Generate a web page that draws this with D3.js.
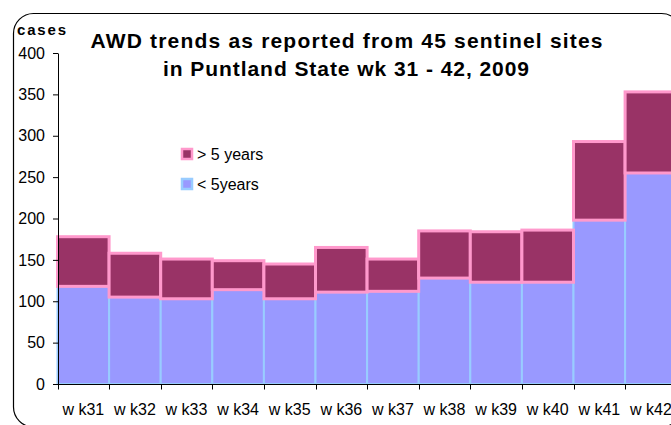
<!DOCTYPE html>
<html lang="en">
<head>
<meta charset="UTF-8">
<title>AWD trends</title>
<style>
  body { margin: 0; background: #fff; overflow: hidden; }
  svg { display: block; font-family: Arial, "Liberation Sans", sans-serif; }
  .tick text { font-size: 16px; fill: #000; }
</style>
</head>
<body>
<svg></svg>
<script src="https://d3js.org/d3.v7.min.js"></script>
<script>
// data
const weeks = ["w k31", "w k32", "w k33", "w k34", "w k35", "w k36",
               "w k37", "w k38", "w k39", "w k40", "w k41", "w k42"];
const under5 = [118, 105, 103, 114, 103, 111, 112, 128, 123, 123, 198, 255];
const over5  = [60, 53, 48, 35, 42, 54, 39, 57, 61, 63, 95, 98];
const yTicks = [0, 50, 100, 150, 200, 250, 300, 350, 400];

const width = 671, height = 425;
const svg = d3.select("svg").attr("width", width).attr("height", height);

// chart area border (rounded, cut off at right/bottom)
svg.append("rect")
    .attr("x", 13.5).attr("y", 13.5)
    .attr("width", 668).attr("height", 413.5)
    .attr("rx", 20).attr("ry", 20)
    .attr("fill", "none").attr("stroke", "#000").attr("stroke-width", 1.2);

const x = d3.scaleBand().domain(weeks).range([57.5, 676.7]).padding(0);
const y = d3.scaleLinear().domain([0, 400]).range([384, 53]);

// stacked bars: < 5 years first, then > 5 years on top
svg.append("g").selectAll("rect")
    .data(weeks)
    .join("rect")
    .attr("x", d => x(d))
    .attr("y", (d, i) => y(under5[i]))
    .attr("width", x.bandwidth())
    .attr("height", (d, i) => y(0) - y(under5[i]))
    .attr("fill", "#9999ff")
    .attr("stroke", "#99ccff")
    .attr("stroke-width", 2);

svg.append("g").selectAll("rect")
    .data(weeks)
    .join("rect")
    .attr("x", d => x(d))
    .attr("y", (d, i) => y(under5[i] + over5[i]))
    .attr("width", x.bandwidth())
    .attr("height", (d, i) => y(under5[i]) - y(under5[i] + over5[i]))
    .attr("fill", "#993366")
    .attr("stroke", "#ff99cc")
    .attr("stroke-width", 3);

// y axis
const yAxis = svg.append("g")
    .attr("transform", "translate(58,0)")
    .call(d3.axisLeft(y).tickValues(yTicks).tickSize(5).tickPadding(8).tickSizeOuter(0));
yAxis.select(".domain").attr("stroke", "#000");
yAxis.selectAll(".tick line").attr("stroke", "#000");

// x axis: tick marks between categories, labels centred in bands
const xg = svg.append("g").attr("transform", "translate(0,384.5)");
xg.append("line")
    .attr("x1", 58).attr("x2", width)
    .attr("stroke", "#000");
xg.selectAll("line.tk")
    .data(weeks)
    .join("line")
    .attr("class", "tk")
    .attr("x1", d => Math.round(x(d)) + 0.5)
    .attr("x2", d => Math.round(x(d)) + 0.5)
    .attr("y1", 0).attr("y2", 5)
    .attr("stroke", "#000");
xg.selectAll("text")
    .data(weeks)
    .join("text")
    .attr("x", d => x(d) + x.bandwidth() / 2)
    .attr("y", 30.5)
    .attr("text-anchor", "middle")
    .attr("font-size", 16)
    .text(d => d);

// axis title
svg.append("text")
    .attr("x", 17).attr("y", 35)
    .attr("font-size", 15).attr("font-weight", "bold")
    .attr("textLength", 49)
    .text("cases");

// chart title
const title = svg.append("text")
    .attr("text-anchor", "middle")
    .attr("font-size", 21).attr("font-weight", "bold");
title.append("tspan").attr("x", 346.5).attr("y", 48)
    .attr("textLength", 512)
    .text("AWD trends as reported from 45 sentinel sites");
title.append("tspan").attr("x", 346).attr("y", 76)
    .attr("textLength", 366)
    .text("in Puntland State wk 31 - 42, 2009");

// legend
const legend = [
    {label: "> 5 years", fill: "#993366", stroke: "#ff99cc", y: 154},
    {label: "< 5years", fill: "#9999ff", stroke: "#99ccff", y: 184}
];
const lg = svg.append("g").selectAll("g")
    .data(legend)
    .join("g")
    .attr("transform", d => `translate(182,${d.y})`);
lg.append("rect")
    .attr("x", 0).attr("y", -5)
    .attr("width", 10).attr("height", 10)
    .attr("fill", d => d.fill)
    .attr("stroke", d => d.stroke)
    .attr("stroke-width", 2.5);
lg.append("text")
    .attr("x", 15).attr("y", 5.5)
    .attr("font-size", 16)
    .text(d => d.label);
</script>
</body>
</html>
